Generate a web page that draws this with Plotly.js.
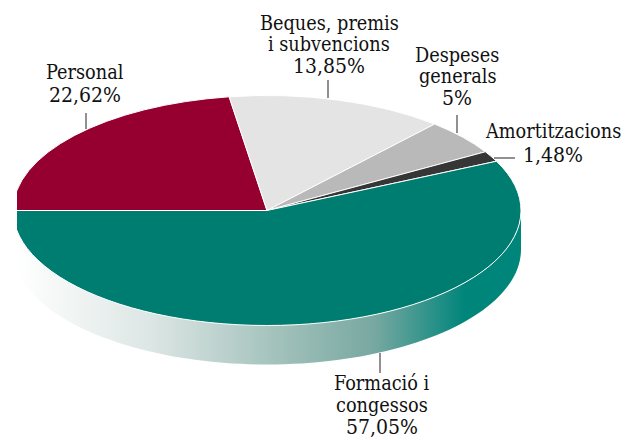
<!DOCTYPE html>
<html><head><meta charset="utf-8">
<script src="https://cdn.plot.ly/plotly-3.0.1.min.js"></script>
<style>html,body{margin:0;padding:0;background:#fff}#c{width:633px;height:440px}</style>
</head><body><div id="c"></div>
<script>
const categories = ["Personal","Beques, premis i subvencions","Despeses generals","Amortitzacions","Formació i congessos"];
const values = [22.62,13.85,5,1.48,57.05];
const valueLabels = ["22,62%","13,85%","5%","1,48%","57,05%"];
const labelLines = [["Personal"],["Beques, premis","i subvencions"],["Despeses","generals"],["Amortitzacions"],["Formació i","congessos"]];
const colors = ["#960030","#e4e4e4","#b9b9b9","#363636","#007d71"];
const labelX = [85,329,457,553,382];
const labelBaselines = [[79,102],[30,51,73],[62,83,105],[138,162],[390,412,434]];
const leaders = [[86,113,86,129],[328,80,328,98],[457,115,457,133],[494,158,515,158],[380,353,380,373]];
const W=633,H=440,cx=267,cy=210.5,rx=254,ry=115,depth=39,R=200;

// side wall of the disc
const wx=[],wy=[];
for(let a=0;a<=180;a+=2){wx.push(cx+rx*Math.cos(a*Math.PI/180));wy.push(cy+ry*Math.sin(a*Math.PI/180)+depth);}
for(let a=180;a>=0;a-=2){wx.push(cx+rx*Math.cos(a*Math.PI/180));wy.push(cy+ry*Math.sin(a*Math.PI/180));}

const wall={type:"scatter",x:wx,y:wy,mode:"none",fill:"toself",hoverinfo:"skip",showlegend:false,
 fillgradient:{type:"horizontal",start:17,stop:465,colorscale:[[0,"#ffffff"],[0.3,"#dce6e4"],[0.6,"#9fbfb9"],[0.8,"#76a8a1"],[1,"#00857a"]]}};
const pie={type:"pie",labels:categories,values:values,sort:false,direction:"clockwise",rotation:270,
 textinfo:"none",hoverinfo:"label+percent",showlegend:false,
 marker:{colors:colors,line:{color:"#ffffff",width:1}},
 domain:{x:[(cx-R)/W,(cx+R)/W],y:[(H-cy-R)/H,(H-cy+R)/H]}};

const annotations=[];
categories.forEach((c,i)=>{
 labelLines[i].concat(valueLabels[i]).forEach((t,j,all)=>{
  const isValue=j===all.length-1, size=isValue?21:19.7;
  annotations.push({xref:"x",yref:"y",x:labelX[i],y:labelBaselines[i][j]-0.32*size,showarrow:false,align:"center",
   xanchor:"center",yanchor:"middle",text:t,font:{size:size},borderpad:0});
 });
});
const shapes=leaders.map(l=>({type:"line",xref:"x",yref:"y",x0:l[0],y0:l[1],x1:l[2],y1:l[3],line:{color:"#222222",width:1},layer:"above"}));
shapes.push({type:"rect",xref:"x",yref:"y",x0:0,x1:17,y0:150,y1:300,line:{width:0},fillcolor:"#ffffff",layer:"above"});

Plotly.newPlot("c",[wall,pie],{
 width:W,height:H,margin:{l:0,r:0,t:0,b:0},paper_bgcolor:"#fff",plot_bgcolor:"#fff",showlegend:false,
 font:{family:"'DejaVu Serif Condensed','DejaVu Serif',serif",size:20,color:"#111"},
 xaxis:{range:[0,W],visible:false,fixedrange:true},
 yaxis:{range:[H,0],visible:false,fixedrange:true},
 annotations:annotations,shapes:shapes
},{displayModeBar:false,staticPlot:true}).then(()=>{
 const g=document.querySelector(".pielayer");
 g.setAttribute("transform",`translate(${cx},${cy}) scale(${rx/R},${ry/R}) translate(${-cx},${-cy})`);
 g.querySelectorAll("path").forEach(p=>{p.style.vectorEffect="non-scaling-stroke";});
});
</script></body></html>
